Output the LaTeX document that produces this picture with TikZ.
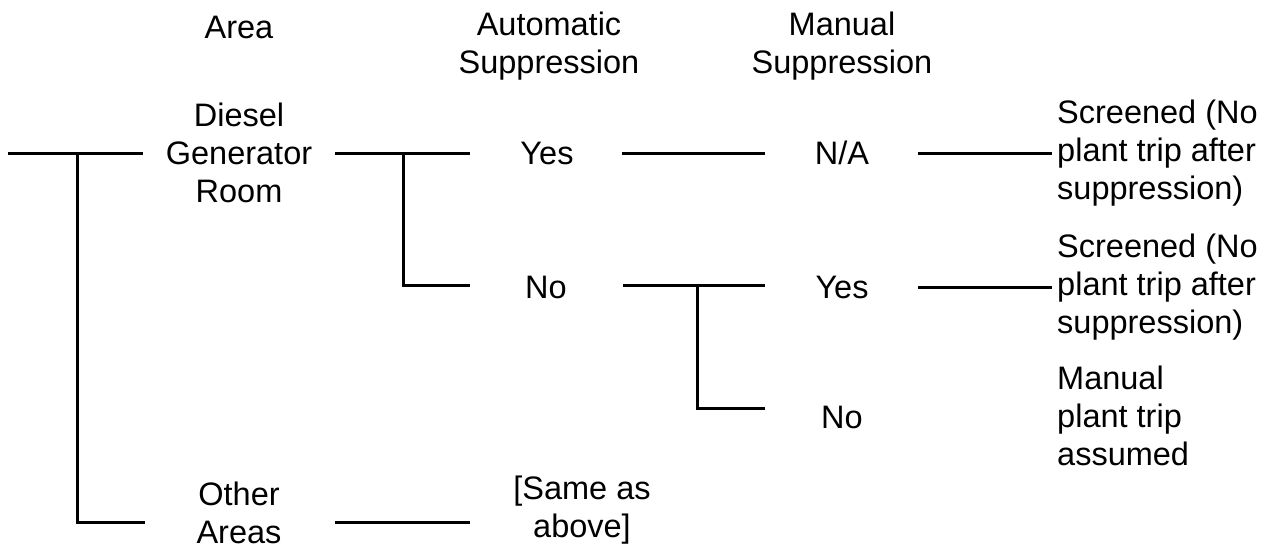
\documentclass[tikz,border=0pt]{standalone}
\usepackage{fontspec}
\setmainfont{Liberation Sans}
\begin{document}
\begin{tikzpicture}[x=1pt,y=-1pt,
  txt/.style={inner sep=0pt, align=center, font=\fontsize{32.5}{38}\selectfont},
  rtxt/.style={txt, align=left, anchor=west},
  branch/.style={line width=3pt, line join=miter}]
\useasboundingbox (0,0) rectangle (1279,551);
% headers
\node[txt] (hArea) at (239,27) {Area};
\node[txt] (hAuto) at (549,46) {Automatic\\Suppression};
\node[txt] (hMan) at (842,46) {Manual\\Suppression};
% area column
\node[txt] (dg) at (239,153) {Diesel\\Generator\\Room};
\node[txt] (oa) at (239,513) {Other\\Areas};
% automatic column
\node[txt] (ayes) at (547,153) {Yes};
\node[txt] (ano) at (546,287) {No};
\node[txt] (same) at (582,510) {[Same as\\above]};
% manual column
\node[txt] (mna) at (842,153) {N/A};
\node[txt] (myes) at (842,287) {Yes};
\node[txt] (mno) at (842,417) {No};
% outcomes
\node[rtxt] (o1) at (1057,153) {Screened (No\\plant trip after\\suppression)};
\node[rtxt] (o2) at (1057,287) {Screened (No\\plant trip after\\suppression)};
\node[rtxt] (o3) at (1057,416) {Manual\\plant trip\\assumed};
% connector coordinates
\coordinate (r0) at (8,153);    \coordinate (r1) at (143,153);
\coordinate (rj) at (77,153);   \coordinate (rb) at (145,522);
\coordinate (d0) at (335,153);  \coordinate (d1) at (470,153);
\coordinate (dj) at (403,153);  \coordinate (db) at (470,285);
\coordinate (y0) at (622,153);  \coordinate (y1) at (765,153);
\coordinate (n0) at (918,153);  \coordinate (n1) at (1052,153);
\coordinate (no0) at (623,285); \coordinate (no1) at (765,285);
\coordinate (nj) at (697,285);  \coordinate (nb) at (765,408);
\coordinate (my0) at (918,287); \coordinate (my1) at (1052,287);
\coordinate (oa0) at (335,522); \coordinate (oa1) at (470,522);
% connectors
\draw[branch] (r0) -- (r1);
\draw[branch] (rj) |- (rb);
\draw[branch] (d0) -- (d1);
\draw[branch] (dj) |- (db);
\draw[branch] (y0) -- (y1);
\draw[branch] (n0) -- (n1);
\draw[branch] (no0) -- (no1);
\draw[branch] (nj) |- (nb);
\draw[branch] (my0) -- (my1);
\draw[branch] (oa0) -- (oa1);
\end{tikzpicture}
\end{document}
